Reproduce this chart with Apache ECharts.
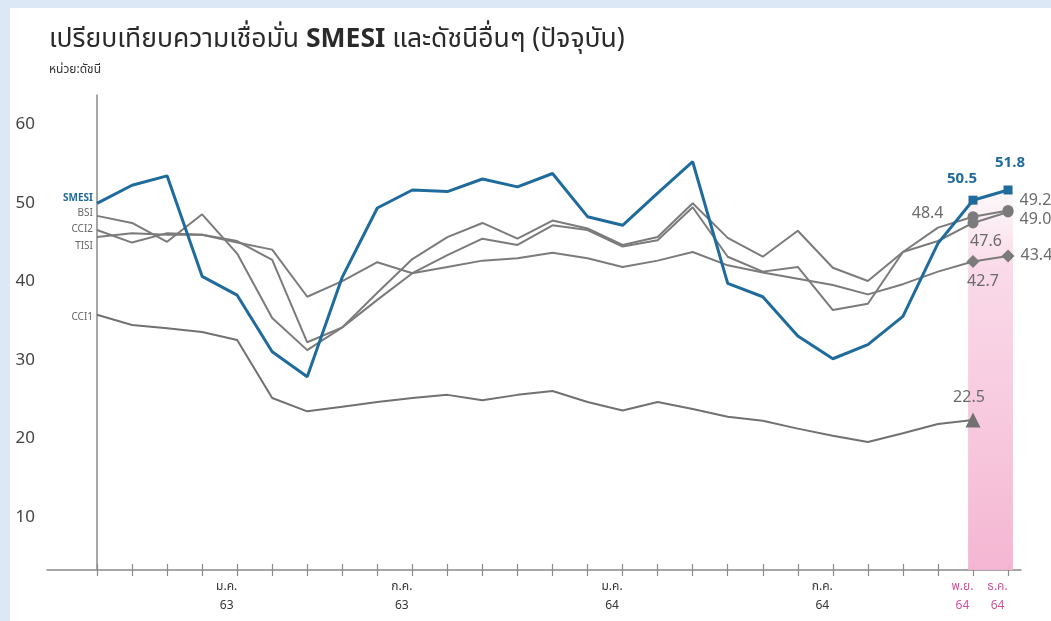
<!DOCTYPE html>
<html>
<head>
<meta charset="utf-8">
<title>SMESI</title>
<script src="https://cdn.jsdelivr.net/npm/echarts@6/dist/echarts.min.js"></script>
<style>
html,body{margin:0;padding:0;background:#fff;}
#main{width:1051px;height:621px;}
</style>
</head>
<body>
<div id="main"></div>
<script>
// เดือน (แกน x)
var months = ['ก.ย. 62','ต.ค. 62','พ.ย. 62','ธ.ค. 62','ม.ค. 63','ก.พ. 63','มี.ค. 63','พ.ค. 63','มิ.ย. 63',
    'ก.ค. 63','ส.ค. 63','ก.ย. 63','ต.ค. 63','พ.ย. 63','ธ.ค. 63','ม.ค. 64','ก.พ. 64','มี.ค. 64',
    'เม.ย. 64','พ.ค. 64','มิ.ย. 64','ก.ค. 64','ส.ค. 64','ก.ย. 64','ต.ค. 64','พ.ย. 64','ธ.ค. 64'];
var labelMonths = ['ม.ค. 63','ก.ค. 63','ม.ค. 64','ก.ค. 64','พ.ย. 64','ธ.ค. 64'];
var highlightMonths = ['พ.ย. 64','ธ.ค. 64'];
var yTicks = [10, 20, 30, 40, 50, 60];

var smesi = [50.1, 52.4, 53.6, 40.8, 38.4, 31.2, 28.0, 40.7, 49.5, 51.8, 51.6, 53.2, 52.2, 53.9,
    48.4, 47.3, 51.4, 55.4, 39.9, 38.2, 33.2, 30.3, 32.1, 35.7, 45.0, 50.5, 51.8];
var bsi = [48.5, 47.6, 45.2, 48.7, 43.7, 35.5, 31.4, 34.3, 37.8, 41.2, 43.5, 45.6, 44.8, 47.3,
    46.7, 44.6, 45.4, 49.6, 43.3, 41.4, 42.0, 36.5, 37.3, 43.9, 45.3, 47.6, 49.0];
var cci2 = [46.7, 45.1, 46.3, 46.1, 45.3, 42.9, 32.4, 34.3, 38.7, 43.0, 45.8, 47.6, 45.6, 47.9,
    46.9, 44.8, 45.8, 50.1, 45.7, 43.3, 46.6, 41.9, 40.2, 43.9, 47.0, 48.4, 49.2];
var tisi = [45.8, 46.3, 46.1, 46.1, 45.1, 44.2, 38.2, 40.2, 42.6, 41.2, 42.0, 42.8, 43.1, 43.8,
    43.1, 42.0, 42.8, 43.9, 42.2, 41.3, 40.5, 39.7, 38.5, 39.8, 41.4, 42.7, 43.4];
var cci1 = [35.9, 34.6, 34.2, 33.7, 32.7, 25.3, 23.6, 24.2, 24.8, 25.3, 25.7, 25.0, 25.7, 26.2,
    24.8, 23.7, 24.8, 23.9, 22.9, 22.4, 21.4, 20.5, 19.7, 20.8, 22.0, 22.5, null];

var FONT = "'Noto Sans Thai', 'Noto Sans', sans-serif";
var BLUE = '#1f6c9c';
var GREY = '#7b7b7b';
var PINK = '#d4529c';

var nov = months.indexOf('พ.ย. 64');
var dec = months.indexOf('ธ.ค. 64');

function valueLabel(p) {
    return p.value[1].toFixed(1);
}

//สร้าง series หนึ่งเส้น
function makeSeries(name, values, opt) {
    var data = [];
    for (var i = 0; i < values.length; i++) {
        if (values[i] == null) continue;
        var item = { value: [i, values[i]] };
        if (i == 0) {
            item.label = {
                show: true, position: 'left', distance: 4, offset: [0, opt.nameDy || 0],
                formatter: name, fontSize: 10, fontFamily: FONT,
                color: opt.nameColor || '#666', fontWeight: opt.nameBold ? 'bold' : 'normal'
            };
        }
        if (opt.ends && opt.ends[i]) {
            item.symbol = opt.symbol;
            item.symbolSize = opt.symbolSize;
            item.label = Object.assign({
                show: true, formatter: valueLabel, fontSize: 16, fontFamily: FONT,
                color: opt.labelColor || '#6b6b6b'
            }, opt.ends[i]);
        }
        data.push(item);
    }
    return {
        type: 'line',
        name: name,
        data: data,
        symbol: 'circle',
        symbolSize: 0,
        showSymbol: true,
        lineStyle: { color: opt.color, width: opt.width },
        itemStyle: { color: opt.color },
        z: opt.z || 2,
        silent: true,
        animation: false
    };
}

var smesiEnds = {};
smesiEnds[nov] = { position: 'top', distance: 8, offset: [-11, 0], color: BLUE, fontWeight: 'bold', fontSize: 15 };
smesiEnds[dec] = { position: 'top', distance: 14, offset: [2, 0], color: BLUE, fontWeight: 'bold', fontSize: 15 };
var cci2Ends = {};
cci2Ends[nov] = { position: 'left', distance: 24, offset: [0, -2] };
cci2Ends[dec] = { position: 'right', distance: 6, offset: [0, -9] };
var bsiEnds = {};
bsiEnds[nov] = { position: 'bottom', distance: 6, offset: [13, 0] };
bsiEnds[dec] = { position: 'right', distance: 6, offset: [0, 9] };
var tisiEnds = {};
tisiEnds[nov] = { position: 'bottom', distance: 7, offset: [10, 0] };
tisiEnds[dec] = { position: 'right', distance: 6, offset: [0, 1] };
var cci1Ends = {};
cci1Ends[nov] = { position: 'top', distance: 6, offset: [-4, 0] };

var series = [
    makeSeries('CCI1', cci1, { color: '#717171', width: 2, symbol: 'triangle', symbolSize: 15, ends: cci1Ends, nameDy: 3 }),
    makeSeries('TISI', tisi, { color: GREY, width: 2, symbol: 'diamond', symbolSize: 13, ends: tisiEnds, nameDy: 10 }),
    makeSeries('CCI2', cci2, { color: GREY, width: 2, symbol: 'circle', symbolSize: 11, ends: cci2Ends, nameDy: 0 }),
    makeSeries('BSI', bsi, { color: GREY, width: 2, symbol: 'circle', symbolSize: 11, ends: bsiEnds, nameDy: -2 }),
    makeSeries('SMESI', smesi, { color: BLUE, width: 3, symbol: 'rect', symbolSize: 9, ends: smesiEnds,
        nameColor: BLUE, nameBold: true, nameDy: -4, z: 5 })
];

//แถบสีชมพูเดือนล่าสุด
var hlStart = months.indexOf(highlightMonths[0]) - 0.14;
var hlEnd = months.indexOf(highlightMonths[highlightMonths.length - 1]) + 0.14;
series[0].markArea = {
    silent: true,
    itemStyle: {
        color: new echarts.graphic.LinearGradient(0, 0, 0, 1, [
            { offset: 0, color: 'rgba(249,215,230,0.2)' },
            { offset: 0.2, color: 'rgba(248,205,225,0.75)' },
            { offset: 1, color: 'rgba(244,178,208,0.95)' }
        ])
    },
    data: [[{ xAxis: hlStart, yAxis: 3.4 }, { xAxis: hlEnd, yAxis: 51.5 }]]
};
series[0].z = 1;

var tickValues = [];
for (var t = 0; t < months.length; t++) tickValues.push(t);
var labelValues = labelMonths.map(function (m) { return months.indexOf(m) - 0.3; });

var option = {
    backgroundColor: '#ffffff',
    animation: false,
    title: {
        text: '{a|เปรียบเทียบความเชื่อมั่น }{b|SMESI}{a| และดัชนีอื่นๆ (ปัจจุบัน)}',
        subtext: 'หน่วย:ดัชนี',
        left: 44,
        top: 23,
        itemGap: 10,
        textStyle: {
            fontWeight: 'normal',
            rich: {
                a: { fontSize: 26.5, color: '#2a2a2a', fontWeight: 'normal', fontFamily: FONT },
                b: { fontSize: 26.5, color: '#2a2a2a', fontWeight: 'bold', fontFamily: FONT }
            }
        },
        subtextStyle: { fontSize: 12, color: '#333', fontFamily: FONT }
    },
    graphic: [
        { type: 'rect', left: 0, top: 0, shape: { width: 10, height: 621 }, style: { fill: '#dce8f6' }, silent: true },
        { type: 'rect', left: 0, top: 0, shape: { width: 1051, height: 8 }, style: { fill: '#dce8f6' }, silent: true }
    ],
    grid: { left: 47, right: 30, top: 95, bottom: 51 },
    xAxis: [{
        type: 'value',
        min: -1.427,
        max: 26.37,
        splitLine: { show: false },
        axisLine: { show: true, lineStyle: { color: '#8a8a8a', width: 1.5 } },
        axisTick: { show: true, customValues: tickValues, length: 6, lineStyle: { color: '#8a8a8a', width: 1.2 } },
        axisLabel: {
            show: true,
            customValues: labelValues,
            margin: 8,
            fontFamily: FONT,
            fontSize: 12,
            lineHeight: 19,
            formatter: function (v) {
                var m = months[Math.round(v + 0.3)];
                var parts = m.split(' ');
                var key = highlightMonths.indexOf(m) >= 0 ? 'p' : 'n';
                return '{' + key + '|' + parts[0] + '}\n{' + key + '|' + parts[1] + '}';
            },
            rich: {
                n: { color: '#333', fontSize: 12, lineHeight: 19, fontFamily: FONT },
                p: { color: PINK, fontSize: 12, lineHeight: 19, fontFamily: FONT }
            }
        }
    }, {
        type: 'value',
        min: -1.427,
        max: 26.37,
        position: 'bottom',
        splitLine: { show: false },
        axisLine: { show: false },
        axisTick: { show: true, inside: true, customValues: tickValues, length: 6, lineStyle: { color: '#8a8a8a', width: 1.2 } },
        axisLabel: { show: false }
    }],
    yAxis: {
        type: 'value',
        min: 3.39,
        max: 63.9,
        splitLine: { show: false },
        axisLine: { show: true, lineStyle: { color: '#8a8a8a', width: 1.5 } },
        axisTick: { show: false },
        axisLabel: {
            customValues: yTicks,
            margin: 12,
            fontSize: 17,
            color: '#444',
            fontFamily: FONT
        }
    },
    series: series
};

var chart = echarts.init(document.getElementById('main'), null, { renderer: 'canvas' });
chart.setOption(option);
</script>
</body>
</html>
